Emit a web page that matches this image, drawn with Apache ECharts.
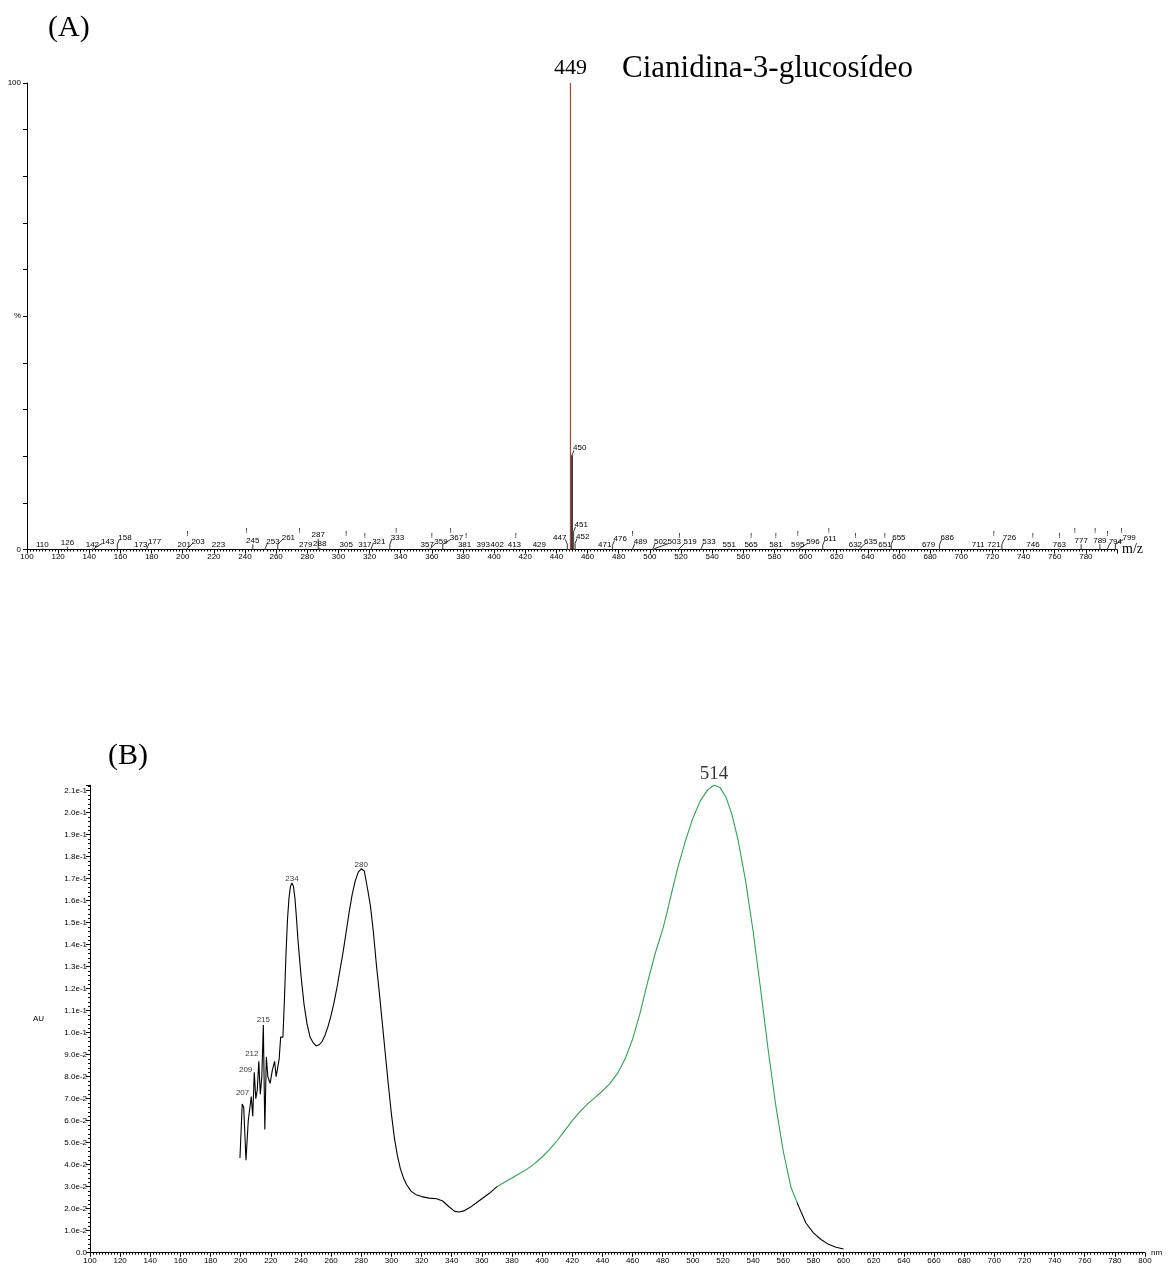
<!DOCTYPE html>
<html>
<head>
<meta charset="utf-8">
<script src="https://cdn.jsdelivr.net/npm/echarts@6/dist/echarts.min.js"></script>
<style>
html,body{margin:0;padding:0;background:#fff;}
#chart{width:1168px;height:1266px;}
</style>
</head>
<body>
<div id="chart"></div>
<script>
// ---------- (A) mass spectrum ----------
const msTitle = 'Cianidina-3-glucosídeo';
const msBasePeak = 449;
// [m/z, relative intensity %]
const msPeaks = [
  [110,0.2],[126,0.6],[142,0.2],[143,0.2],[158,1.1],[173,0.2],[177,0.2],[201,0.2],[203,0.2],
  [223,0.2],[245,1.1],[253,0.2],[261,1.1],[279,0.2],[287,2.3],[288,0.4],[305,0.2],[317,0.2],
  [321,0.2],[333,1.1],[357,0.2],[359,0.2],[367,1.1],[381,0.2],[393,0.2],[402,0.2],[413,0.2],
  [429,0.1],[447,1.1],[449,100],[450,20.2],[451,3.8],[452,1.3],[471,0.2],[476,0.9],[489,0.2],
  [502,0.2],[503,0.2],[519,0.2],[533,0.2],[551,0.2],[565,0.1],[581,0.2],[595,0.2],[596,0.2],
  [611,0.9],[632,0.2],[635,0.2],[651,0.2],[655,1.1],[679,0.2],[686,1.0],[711,0.2],[721,0.2],
  [726,1.0],[746,0.2],[763,0.2],[777,1.1],[789,1.1],[794,0.2],[799,1.1]
];
// "!" markers: [m/z position, height %]
const msBangs = [
  [203,3.3],[241,4.0],[275,4.0],[305,3.3],[317,2.9],[337,4.0],[360,2.9],[372,4.0],[382,2.9],
  [414,2.9],[489,3.3],[519,2.9],[565,2.9],[581,2.9],[595,3.3],[615,4.0],[632,2.9],[651,2.9],
  [721,3.3],[746,2.9],[763,2.9],[773,4.0],[786,4.0],[794,3.3],[803,4.0]
];

// ---------- (B) UV-Vis spectrum ----------
const uvWavelength = [
  199.5,201,202,203.5,205,207,208,209,210,211,212,213,214,215,216,217,218,219.5,221,222.5,223.5,225.5,226.5,
  228,229,230,231,232,233,234,235,236,237,238,240,242,244,246,248,250,252,254,256,258,260,262,264,266,268,
  270,272,274,276,278,280,282,284,286,288,290,292,294,296,298,300,302,304,306,308,310,313,316,320,325,330,334,338,
  342,345,348,352,356,360,365,370,375,380,385,390,395,400,405,410,415,420,425,430,435,440,445,450,455,460,
  465,470,475,480,483,485,490,495,500,505,510,514,518,522,526,530,535,540,545,550,555,560,565,569,575,580,
  585,590,595,600
];
const uvAbsorbance = [
  0.043,0.0676,0.066,0.042,0.060,0.071,0.062,0.082,0.070,0.074,0.087,0.072,0.080,0.1035,0.056,0.089,0.080,0.077,0.083,0.087,0.080,0.088,0.098,
  0.098,0.115,0.135,0.151,0.161,0.1665,0.168,0.1665,0.161,0.152,0.142,0.126,0.113,0.104,0.098,0.0955,0.094,0.0945,0.096,0.099,0.103,0.108,0.114,0.121,0.129,0.137,
  0.146,0.155,0.163,0.169,0.173,0.1745,0.1735,0.166,0.158,0.146,0.131,0.118,0.104,0.090,0.076,0.063,0.052,0.044,0.038,0.034,0.031,0.028,0.0265,0.0255,0.0248,0.0245,0.0235,0.021,
  0.0188,0.0185,0.019,0.0205,0.0225,0.0245,0.027,0.030,0.032,0.034,0.036,0.038,0.0405,0.0435,0.047,0.051,0.0555,0.060,0.064,0.0675,0.0705,0.0735,0.077,0.0815,0.088,0.097,
  0.109,0.123,0.136,0.147,0.155,0.161,0.175,0.187,0.1975,0.2055,0.2105,0.2125,0.2115,0.207,0.199,0.1875,0.169,0.146,0.1195,0.092,0.067,0.046,0.030,0.023,0.0135,0.009,
  0.006,0.0038,0.0025,0.0017
];
const uvPeakLabels = [207, 209, 212, 215, 234, 280, 514];
const uvGreenFrom = 370, uvGreenTo = 569;

// ---------- styles ----------
const SANS = '"Liberation Sans", Arial, sans-serif';
const SERIF = '"Liberation Serif", "Times New Roman", serif';
const BASE_COLOR = '#b5442f';
const GREEN = '#2fa24e';
const LABEL_FS = 8, CHAR_W = 4.45;

const chart = echarts.init(document.getElementById('chart'), null, {renderer: 'canvas'});

let placed = [];
function overlaps(b) {
  return placed.some(p => b.x1 < p.x2 && b.x2 > p.x1 && b.y1 < p.y2 && b.y2 > p.y1);
}
function renderPeak(params, api) {
  const mz = api.value(0), inten = api.value(1);
  if (params.dataIndexInside === 0) {
    placed = [];
    msPeaks.forEach(([m, v]) => {
      if (v > 5) {
        const b = api.coord([m, 0]), t = api.coord([m, v]);
        placed.push({x1: b[0] - 1, x2: b[0] + 1, y1: t[1], y2: b[1]});
      }
    });
  }
  const b = api.coord([mz, 0]), t = api.coord([mz, inten]);
  const isBase = mz === msBasePeak;
  const children = [{
    type: 'line',
    shape: {x1: b[0], y1: b[1], x2: t[0], y2: t[1]},
    style: {stroke: isBase ? BASE_COLOR : (inten > 5 ? '#111' : '#555'), lineWidth: isBase ? 1.2 : (inten > 5 ? 1.6 : 1.2)}
  }];
  if (isBase) {
    children.push({type: 'text', x: t[0], y: t[1] - 4,
      style: {text: String(mz), fontSize: 22, fontFamily: SERIF, fill: '#000', align: 'center', verticalAlign: 'bottom'}});
    return {type: 'group', children};
  }
  const txt = String(mz);
  const w = txt.length * CHAR_W, h = 7;
  const x = t[0], yb = t[1] - 1;
  const cands = [{l: x - w / 2, raise: 0}, {l: x - w - 1, raise: 3}, {l: x + 1, raise: 3}];
  for (let k = 1; k <= 8; k++) cands.push({l: x + 1 + k * 3, raise: 3});
  let chosen = cands[cands.length - 1];
  for (const c of cands) {
    const box = {x1: c.l, x2: c.l + w, y1: yb - c.raise - h, y2: yb - c.raise};
    if (!overlaps(box)) { chosen = c; break; }
  }
  const box = {x1: chosen.l, x2: chosen.l + w, y1: yb - chosen.raise - h, y2: yb - chosen.raise};
  placed.push(box);
  children.push({type: 'text', x: chosen.l, y: box.y2 + 1,
    style: {text: txt, fontSize: LABEL_FS, fontFamily: SANS, fill: '#000', align: 'left', verticalAlign: 'bottom'}});
  if (chosen.raise) {
    const ex = chosen.l < x ? chosen.l + w - 1 : chosen.l + 1;
    children.push({type: 'line', shape: {x1: x, y1: yb + 1, x2: ex, y2: box.y2 - 1},
      style: {stroke: '#000', lineWidth: 0.8}});
  }
  return {type: 'group', children};
}
function renderBang(params, api) {
  const p = api.coord([api.value(0), api.value(1)]);
  return {type: 'text', x: p[0], y: p[1],
    style: {text: '!', fontSize: 8, fontFamily: SANS, fill: '#000', align: 'center', verticalAlign: 'middle'}};
}

const uvData = uvWavelength.map((w, i) => [w, uvAbsorbance[i]]);
const uvLabelStyle = {
  207: {position: 'left', distance: 2, offset: [0, -4]},
  209: {position: 'left', distance: 2, offset: [0, -3]},
  212: {position: 'top', distance: 2, offset: [-7, -2]},
  215: {position: 'top', distance: 1},
  234: {position: 'top', distance: 0},
  280: {position: 'top', distance: 0},
  514: {position: 'top', distance: 2, fontSize: 19, fontFamily: SERIF}
};
const uvLabelData = uvPeakLabels.map(w => {
  const i = uvWavelength.indexOf(w);
  const st = uvLabelStyle[w] || {position: 'top'};
  return {value: [w, uvAbsorbance[i]], label: Object.assign({show: true, formatter: String(w), fontSize: 8, fontFamily: SANS, color: '#000'}, st)};
});

const axisLineStyle = {show: true, lineStyle: {color: '#000', width: 1}};
const option = {
  animation: false,
  backgroundColor: '#fff',
  grid: [
    {left: 27, top: 83, width: 1090, height: 466.5, outerBoundsMode: 'none', containLabel: false},
    {left: 90, top: 785.2, width: 1055, height: 467.5, outerBoundsMode: 'none', containLabel: false}
  ],
  xAxis: [
    {
      type: 'value', gridIndex: 0, min: 100, max: 800, interval: 20,
      axisLine: axisLineStyle,
      axisTick: {show: true, length: 4, lineStyle: {color: '#000'}},
      minorTick: {show: true, splitNumber: 10, length: 2, lineStyle: {color: '#000'}},
      splitLine: {show: false}, minorSplitLine: {show: false},
      axisLabel: {fontSize: 8, fontFamily: SANS, color: '#000', margin: 3, showMaxLabel: false},
      name: 'm/z', nameLocation: 'end', nameGap: 5,
      nameTextStyle: {fontSize: 14, fontFamily: SERIF, color: '#000', verticalAlign: 'middle', padding: [5, 0, 0, 0]}
    },
    {
      type: 'value', gridIndex: 1, min: 100, max: 800, interval: 20,
      axisLine: axisLineStyle,
      axisTick: {show: true, length: 4, lineStyle: {color: '#000'}},
      minorTick: {show: true, splitNumber: 10, length: 2, lineStyle: {color: '#000'}},
      splitLine: {show: false}, minorSplitLine: {show: false},
      axisLabel: {fontSize: 8, fontFamily: SANS, color: '#000', margin: 4},
      name: 'nm', nameLocation: 'end', nameGap: 6,
      nameTextStyle: {fontSize: 8, fontFamily: SANS, color: '#000', verticalAlign: 'middle', padding: [3, 0, 0, 0]}
    }
  ],
  yAxis: [
    {
      type: 'value', gridIndex: 0, min: 0, max: 100, interval: 10,
      axisLine: axisLineStyle,
      axisTick: {show: true, length: 4, lineStyle: {color: '#000'}},
      splitLine: {show: false},
      axisLabel: {fontSize: 8, fontFamily: SANS, color: '#000', margin: 6,
        formatter: v => v === 100 ? '100' : (v === 50 ? '%' : (v === 0 ? '0' : ''))}
    },
    {
      type: 'value', gridIndex: 1, min: 0, max: 0.2125, interval: 0.01,
      axisLine: axisLineStyle,
      axisTick: {show: true, length: 4, lineStyle: {color: '#000'}},
      minorTick: {show: true, splitNumber: 5, length: 2, lineStyle: {color: '#000'}},
      splitLine: {show: false}, minorSplitLine: {show: false},
      axisLabel: {fontSize: 8, fontFamily: SANS, color: '#000', margin: 3, showMaxLabel: false,
        formatter: v => v === 0 ? '0.0' : Number(v).toExponential(1)},
      name: 'AU', nameLocation: 'middle', nameRotate: 0, nameGap: 46,
      nameTextStyle: {fontSize: 8, fontFamily: SANS, color: '#000'}
    }
  ],
  visualMap: {
    show: false, type: 'piecewise', seriesIndex: 3, dimension: 0,
    pieces: [
      {lt: uvGreenFrom, color: '#000'},
      {gte: uvGreenFrom, lt: uvGreenTo, color: GREEN},
      {gte: uvGreenTo, color: '#000'}
    ]
  },
  graphic: [
    {type: 'text', x: 48, y: 28, style: {text: '(A)', fontSize: 30, fontFamily: SERIF, fill: '#000', verticalAlign: 'middle'}},
    {type: 'text', x: 622, y: 69, style: {text: msTitle, fontSize: 31, fontFamily: SERIF, fill: '#000', verticalAlign: 'middle'}},
    {type: 'text', x: 108, y: 756, style: {text: '(B)', fontSize: 30, fontFamily: SERIF, fill: '#000', verticalAlign: 'middle'}}
  ],
  series: [
    {type: 'custom', name: 'peaks', xAxisIndex: 0, yAxisIndex: 0, data: msPeaks,
      encode: {x: 0, y: 1}, renderItem: renderPeak, clip: false, silent: true},
    {type: 'custom', name: 'bangs', xAxisIndex: 0, yAxisIndex: 0, data: msBangs,
      encode: {x: 0, y: 1}, renderItem: renderBang, clip: false, silent: true},
    {type: 'scatter', name: 'uvLabels', xAxisIndex: 1, yAxisIndex: 1, data: uvLabelData,
      symbolSize: 0, silent: true, z: 5},
    {type: 'line', name: 'uv', xAxisIndex: 1, yAxisIndex: 1, data: uvData, showSymbol: false,
      symbol: 'none', lineStyle: {width: 1.1}, smooth: false, clip: false, silent: true}
  ]
};
chart.setOption(option);
</script>
</body>
</html>
